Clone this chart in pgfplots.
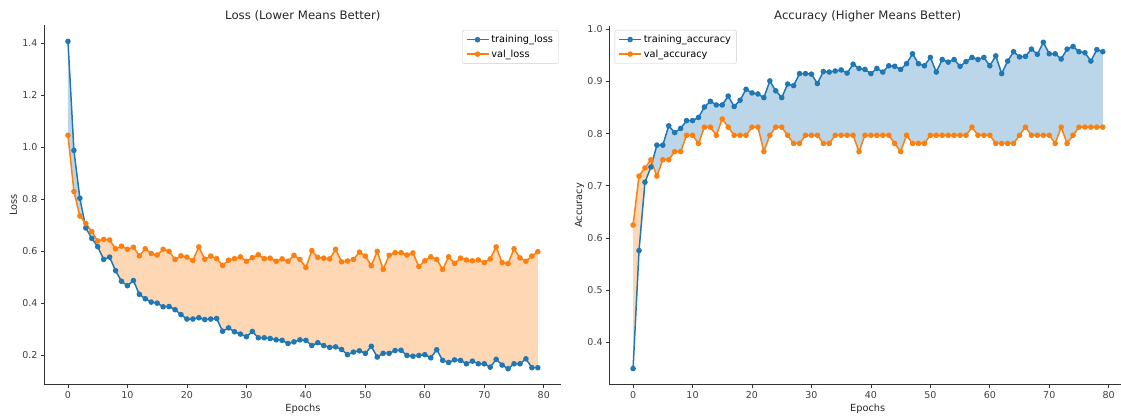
\documentclass[border=0pt]{standalone}
\usepackage{fontspec}
\setmainfont{DejaVu Sans}
\usepackage{pgfplots}
\pgfplotsset{compat=1.18}
\usepackage{pgfplotstable}
\usepgfplotslibrary{fillbetween}
\definecolor{tabblue}{HTML}{1F77B4}
\definecolor{taborange}{HTML}{FF7F0E}
\definecolor{fillblue}{RGB}{188,214,233}
\definecolor{fillorange}{RGB}{254,215,180}

\pgfplotstableread{
ep tl vl ta va
0 1.407 1.046 0.350 0.625
1 0.988 0.830 0.576 0.71875
2 0.804 0.736 0.707 0.734375
3 0.690 0.707 0.736 0.75
4 0.650 0.676 0.778 0.71875
5 0.618 0.640 0.778 0.75
6 0.569 0.646 0.815 0.75
7 0.578 0.644 0.802 0.765625
8 0.526 0.610 0.810 0.765625
9 0.485 0.620 0.825 0.796875
10 0.468 0.608 0.825 0.796875
11 0.488 0.616 0.831 0.78125
12 0.435 0.583 0.851 0.8125
13 0.418 0.610 0.862 0.8125
14 0.405 0.592 0.855 0.796875
15 0.401 0.586 0.855 0.828125
16 0.387 0.608 0.872 0.8125
17 0.388 0.600 0.852 0.796875
18 0.376 0.569 0.864 0.796875
19 0.357 0.583 0.885 0.796875
20 0.340 0.578 0.878 0.8125
21 0.340 0.565 0.876 0.8125
22 0.345 0.617 0.869 0.765625
23 0.338 0.570 0.901 0.796875
24 0.340 0.582 0.882 0.8125
25 0.342 0.572 0.869 0.8125
26 0.293 0.546 0.895 0.796875
27 0.306 0.566 0.892 0.78125
28 0.291 0.572 0.915 0.78125
29 0.282 0.579 0.915 0.796875
30 0.272 0.562 0.914 0.796875
31 0.292 0.576 0.896 0.796875
32 0.268 0.587 0.919 0.78125
33 0.268 0.572 0.918 0.78125
34 0.265 0.574 0.920 0.796875
35 0.260 0.562 0.922 0.796875
36 0.258 0.571 0.916 0.796875
37 0.246 0.562 0.933 0.796875
38 0.252 0.585 0.925 0.765625
39 0.260 0.569 0.923 0.796875
40 0.258 0.538 0.915 0.796875
41 0.238 0.603 0.925 0.796875
42 0.249 0.577 0.918 0.796875
43 0.238 0.574 0.930 0.796875
44 0.231 0.571 0.929 0.78125
45 0.233 0.608 0.923 0.765625
46 0.223 0.560 0.934 0.796875
47 0.203 0.563 0.953 0.78125
48 0.213 0.569 0.934 0.78125
49 0.218 0.597 0.930 0.78125
50 0.208 0.582 0.946 0.796875
51 0.235 0.545 0.918 0.796875
52 0.194 0.600 0.942 0.796875
53 0.208 0.531 0.937 0.796875
54 0.208 0.585 0.942 0.796875
55 0.219 0.595 0.929 0.796875
56 0.220 0.595 0.938 0.796875
57 0.200 0.586 0.946 0.8125
58 0.197 0.594 0.942 0.796875
59 0.200 0.542 0.946 0.796875
60 0.203 0.564 0.930 0.796875
61 0.191 0.579 0.949 0.78125
62 0.222 0.569 0.915 0.78125
63 0.181 0.531 0.939 0.78125
64 0.173 0.579 0.957 0.78125
65 0.183 0.554 0.947 0.796875
66 0.181 0.574 0.948 0.8125
67 0.168 0.567 0.962 0.796875
68 0.178 0.564 0.952 0.796875
69 0.168 0.567 0.975 0.796875
70 0.168 0.557 0.953 0.796875
71 0.155 0.571 0.953 0.78125
72 0.185 0.617 0.943 0.8125
73 0.163 0.557 0.962 0.78125
74 0.149 0.553 0.967 0.796875
75 0.168 0.610 0.957 0.8125
76 0.168 0.575 0.955 0.8125
77 0.187 0.562 0.939 0.8125
78 0.153 0.582 0.961 0.8125
79 0.153 0.599 0.957 0.8125
}\data

\pgfplotsset{
  mpl/.style={
    scale only axis,
    anchor=south west,
    axis x line*=bottom, axis y line*=left,
    axis line style={-, black!80, line width=0.8pt},
    every tick/.style={black!80, line width=0.8pt},
    tick align=outside, major tick length=3.5pt,
    xtick={0,10,...,80},
    tick label style={font=\fontsize{9.5}{11}\selectfont, text=black!75},
    /pgf/number format/assume math mode=true,
    yticklabel style={/pgf/number format/.cd, fixed, fixed zerofill, precision=1, assume math mode=true},
    scaled y ticks=false,
    every axis title/.style={at={(axis description cs:0.5,1)}, anchor=base, yshift=5.8pt, font=\fontsize{11.7}{14}\selectfont, text=black!85},
    every axis x label/.style={at={(axis description cs:0.5,0)}, anchor=base, yshift=-27pt, font=\fontsize{9.8}{12}\selectfont, text=black!85},
    every axis y label/.style={at={(axis description cs:0,0.5)}, rotate=90, anchor=base, yshift=27.5pt, font=\fontsize{9.8}{12}\selectfont, text=black!85},
    legend style={font=\fontsize{9.8}{12}\selectfont, draw=black!20, rounded corners=2pt, fill=white, fill opacity=0.8, text opacity=1, inner xsep=3.5pt, inner ysep=3pt, row sep=1.5pt},
    legend cell align=left,
    legend image code/.code={\draw[line width=1.5pt, mark repeat=2,mark phase=2] plot coordinates {(0pt,0pt) (11pt,0pt) (22pt,0pt)};},
  },
  trn/.style={tabblue, line width=1.5pt, mark=*, mark size=2.0pt, mark options={solid}},
  vln/.style={taborange, line width=1.5pt, mark=*, mark size=2.0pt, mark options={solid}},
}

\begin{document}
\begin{tikzpicture}
\path (0,0) rectangle (1121pt,417pt);
\begin{axis}[mpl, at={(44.5pt,32pt)}, width=517pt, height=360pt,
  xmin=-3.95, xmax=82.95, ymin=0.087, ymax=1.47,
  ytick={0.2,0.4,...,1.41},
  title={Loss (Lower Means Better)}, xlabel={Epochs}, ylabel={Loss},
  legend style={at={(0.995,0.986)}, anchor=north east}]
\addplot[draw=none, name path=A, forget plot] table[x=ep,y=tl]{\data};
\addplot[draw=none, name path=B, forget plot] table[x=ep,y=vl]{\data};
\addplot[fill=fillorange, draw=none, forget plot] fill between[of=A and B, split, every segment no 0/.style={fill=fillblue}];
\addplot[trn] table[x=ep,y=tl]{\data};
\addlegendentry{training\_loss}
\addplot[vln] table[x=ep,y=vl]{\data};
\addlegendentry{val\_loss}
\end{axis}
\begin{axis}[mpl, at={(609.8pt,32pt)}, width=511.2pt, height=359pt,
  xmin=-3.95, xmax=82, ymin=0.31875, ymax=1.00625,
  ytick={0.4,0.5,...,1.01},
  title style={at={(axis description cs:0.505,1)}, yshift=0.2pt},
  title={Accuracy (Higher Means Better)}, xlabel={Epochs}, ylabel={Accuracy},
  every axis x label/.append style={at={(axis description cs:0.505,0)}},
  legend style={at={(0.01,0.989)}, anchor=north west}]
\addplot[draw=none, name path=C, forget plot] table[x=ep,y=ta]{\data};
\addplot[draw=none, name path=D, forget plot] table[x=ep,y=va]{\data};
\addplot[fill=fillblue, draw=none, forget plot] fill between[of=C and D, split, every segment no 0/.style={fill=fillorange}];
\addplot[trn] table[x=ep,y=ta]{\data};
\addlegendentry{training\_accuracy}
\addplot[vln] table[x=ep,y=va]{\data};
\addlegendentry{val\_accuracy}
\end{axis}
\end{tikzpicture}
\end{document}
